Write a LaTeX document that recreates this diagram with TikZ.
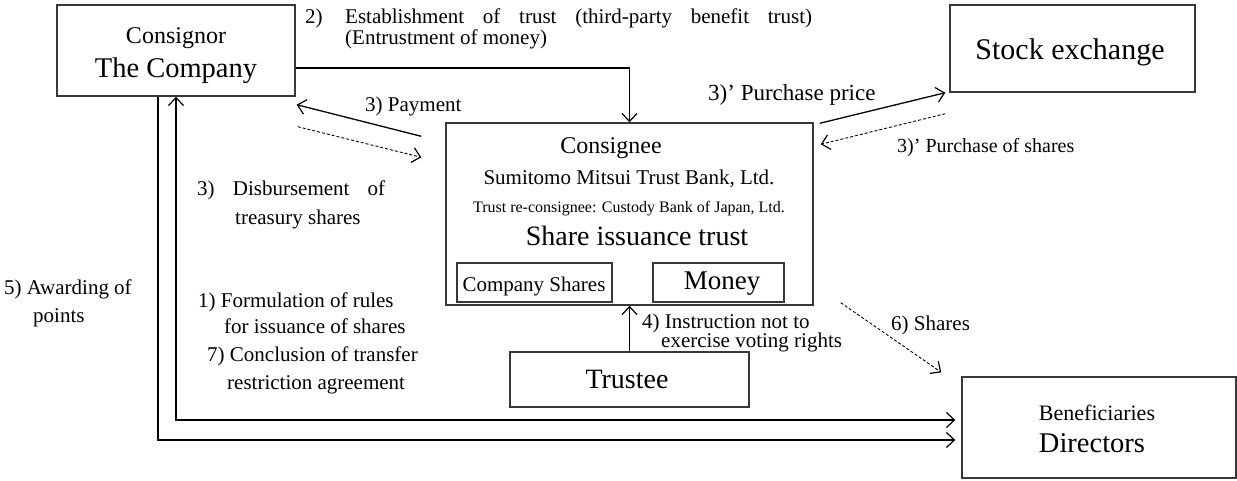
\documentclass[tikz,border=0pt]{standalone}
\usepackage{fontspec}
\setmainfont{Liberation Serif}
\usetikzlibrary{arrows.meta}
\newcommand{\fs}[1]{\fontsize{#1}{#1}\selectfont}
\tikzset{
  box/.style={draw=black!78, line width=1.4pt, rectangle, inner sep=0pt},
  txt/.style={inner sep=0pt, anchor=base},
  lbl/.style={inner sep=0pt, anchor=base west, font=\fs{21}},
  conn/.style={line width=1.3pt, black},
  dconn/.style={line width=0.9pt, black, dash pattern=on 3pt off 2pt},
  >={Straight Barb[length=8pt,width=15pt,line width=1.2pt]}
}
\begin{document}
\begin{tikzpicture}[x=1pt,y=-1pt]
\useasboundingbox (0,0) rectangle (1237,480);

% boxes
\node[box, minimum width=238pt, minimum height=91pt]  (company)   at (176,50.5)   {};
\node[box, minimum width=245pt, minimum height=87pt]  (stock)     at (1072.5,48.5) {};
\node[box, minimum width=367pt, minimum height=182pt] (consignee) at (629.5,214)  {};
\node[box, minimum width=155pt, minimum height=39pt]  (cshares)   at (534.5,282.5) {};
\node[box, minimum width=131pt, minimum height=39pt]  (money)     at (718.5,282.5) {};
\node[box, minimum width=239pt, minimum height=55pt]  (trustee)   at (629.5,379.5) {};
\node[box, minimum width=274pt, minimum height=101pt] (directors) at (1099,427.5)  {};

% texts inside the boxes
\node[txt, font=\fs{24}]   (tconsignor) at (176,43)  {Consignor};
\node[txt, font=\fs{28.5}] (tcompany)   at (176,77)  {The Company};
\node[txt, font=\fs{30}]   (tstock)     at (1070,59) {Stock exchange};
\node[txt, font=\fs{24}]   (tconsignee) at (611,153) {Consignee};
\node[txt, font=\fs{21}]   (tsmtb)      at (629,184) {Sumitomo Mitsui Trust Bank, Ltd.};
\node[txt, font=\fs{16}]   (tcustody)   at (629,212) {Trust re-consignee: Custody Bank of Japan, Ltd.};
\node[txt, font=\fs{28}]   (tsit)       at (637,245) {Share issuance trust};
\node[txt, font=\fs{21}]   (tcshares)   at (534,291) {Company Shares};
\node[txt, font=\fs{27}]   (tmoney)     at (722,289) {Money};
\node[txt, font=\fs{28}]   (ttrustee)   at (627,388) {Trustee};
\node[txt, font=\fs{22}]   (tbenef)     at (1097,420) {Beneficiaries};
\node[txt, font=\fs{28.5}] (tdirectors) at (1092,452) {Directors};

% connectors
\draw[conn,->] ([yshift=-17.5pt]company.east) -| (consignee.north);
\draw[conn,->] ([xshift=-24pt,yshift=-14pt]consignee.north west) -- ([xshift=1pt,yshift=-8pt]company.south east);
\draw[dconn,->] ([xshift=2pt,yshift=-30pt]company.south east) -- ([xshift=-24pt,yshift=-35pt]consignee.north west);
\draw[conn,->] ([xshift=6pt,yshift=-1pt]consignee.north east) -- ([xshift=-4pt]stock.south west);
\draw[dconn,->] ([xshift=-4pt,yshift=-21pt]stock.south west) -- ([xshift=7pt,yshift=-22pt]consignee.north east);
\draw[conn,->] (trustee.north) -- (consignee.south);
\draw[dconn,->] ([xshift=27pt,yshift=3pt]consignee.south east) -- ([xshift=-20pt,yshift=4pt]directors.north west);
\draw[conn,<->] (company.south) |- ([xshift=-6pt,yshift=7.5pt]directors.west);
\draw[conn,->] ([xshift=-18pt]company.south) |- ([xshift=-6pt,yshift=-12.5pt]directors.west);

% connector labels
\node[lbl] (l2a) at (305,23) {2)};
\node[lbl] (l2b) at (345,23) {\makebox[467pt][s]{Establishment of trust (third-party benefit trust)}};
\node[lbl] (l2c) at (345,44) {(Entrustment of money)};
\node[lbl] (l3pay) at (365,111) {3) Payment};
\node[lbl, font=\fs{23}] (l3price) at (708,100) {3)' Purchase price};
\node[lbl, font=\fs{20}] (l3shares) at (897,152) {3)' Purchase of shares};
\node[lbl] (l3da) at (197,195) {\makebox[188pt][s]{3) Disbursement of}};
\node[lbl] (l3db) at (235,224) {treasury shares};
\node[lbl] (l5a) at (4,294) {5) Awarding of};
\node[lbl] (l5b) at (33,322) {points};
\node[lbl] (l1a) at (198,307) {1) Formulation of rules};
\node[lbl] (l1b) at (224,333) {for issuance of shares};
\node[lbl] (l7a) at (207,361) {7) Conclusion of transfer};
\node[lbl] (l7b) at (227,389) {restriction agreement};
\node[lbl] (l4a) at (642,328) {4) Instruction not to};
\node[lbl] (l4b) at (661,347) {exercise voting rights};
\node[lbl] (l6) at (891,330) {6) Shares};
\end{tikzpicture}
\end{document}
